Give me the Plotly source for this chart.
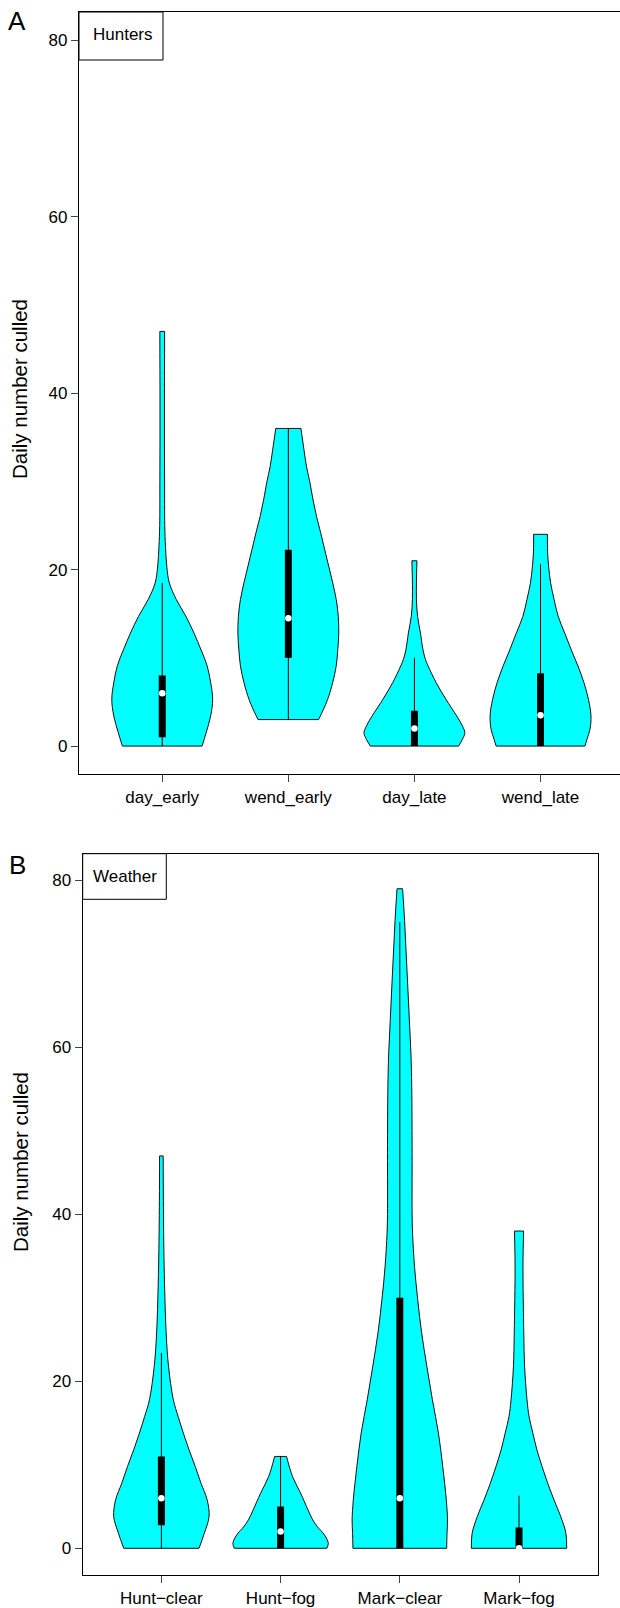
import plotly.graph_objects as go

W, H = 620, 1608

# ---------------- Panel A: Hunters ----------------
cats_a = ["day_early", "wend_early", "day_late", "wend_late"]

# density profiles (y level, relative half-width 0..1)
day_early_y = [0, 1.5, 3.4, 5.3, 7.2, 9.1, 10.9, 12.8, 14.7, 16.6, 18.5, 20.4, 22.6, 25, 30, 35, 40, 45, 47]
day_early_w = [0.79, 0.87, 0.96, 1.0, 0.96, 0.89, 0.77, 0.63, 0.47, 0.28, 0.14, 0.09, 0.065, 0.05, 0.047, 0.044, 0.044, 0.047, 0.047]

wend_early_y = [3, 4.2, 5.3, 7.2, 9.1, 10.9, 12.8, 14.7, 16.6, 18.5, 20.4, 22.3, 24.2, 26, 27.9, 29.8, 31.7, 33.6, 36]
wend_early_w = [0.6, 0.7, 0.78, 0.88, 0.95, 0.98, 1.0, 0.99, 0.95, 0.88, 0.8, 0.72, 0.64, 0.56, 0.49, 0.43, 0.36, 0.31, 0.25]

day_late_y = [0, 0.75, 1.5, 2.3, 3.4, 5.3, 7.2, 9.1, 9.8, 10.9, 12.8, 14.7, 16.6, 18.5, 21]
day_late_w = [0.875, 0.95, 1.0, 0.95, 0.84, 0.625, 0.43, 0.27, 0.22, 0.17, 0.12, 0.0625, 0.04, 0.04, 0.05]

wend_late_y = [0, 0.75, 1.9, 3.4, 5.3, 7.2, 9.1, 10.9, 12.8, 14.7, 16.6, 18.5, 20.4, 22, 24]
wend_late_w = [0.88, 0.92, 0.98, 1.0, 0.95, 0.86, 0.74, 0.61, 0.48, 0.35, 0.27, 0.2, 0.16, 0.14, 0.137]

# box stats: lower whisker, q1, median, q3, upper whisker
stats_a = [
    [0, 1, 6, 8, 18.5],
    [3, 10, 14.5, 22.25, 36],
    [0, 0, 2, 4, 10],
    [0, 0, 3.5, 8.25, 20.6],
]

# ---------------- Panel B: Weather ----------------
cats_b = ["Hunt\u2212clear", "Hunt\u2212fog", "Mark\u2212clear", "Mark\u2212fog"]

hunt_clear_y = [0, 1.8, 3.8, 5.8, 7.8, 9.8, 11.8, 13.8, 15.8, 17.8, 21.8, 25.8, 33.8, 41.7, 47]
hunt_clear_w = [0.79, 0.9, 1.0, 0.96, 0.83, 0.71, 0.58, 0.46, 0.35, 0.25, 0.15, 0.1, 0.058, 0.042, 0.0375]

hunt_fog_y = [0, 0.6, 1.6, 2.6, 3.4, 4.6, 6.6, 8.6, 11]
hunt_fog_w = [0.97, 1.0, 0.92, 0.77, 0.675, 0.575, 0.42, 0.25, 0.125]

mark_clear_y = [0, 1.8, 3.4, 5.8, 9.8, 13.8, 17.8, 21.8, 25.8, 29.8, 33.8, 37.8, 40, 47.4, 55.3, 59.3, 63.3, 67.3, 71.3, 75.2, 79]
mark_clear_w = [0.983, 0.99, 1.0, 0.975, 0.9, 0.81, 0.683, 0.567, 0.458, 0.375, 0.308, 0.267, 0.258, 0.258, 0.25, 0.233, 0.2, 0.167, 0.133, 0.1, 0.058]

mark_fog_y = [0, 1.8, 3.8, 5.8, 7.8, 9.8, 11.8, 13.8, 15.8, 17.8, 21.8, 25.8, 33.8, 38]
mark_fog_w = [1.0, 0.983, 0.875, 0.733, 0.6, 0.483, 0.375, 0.29, 0.21, 0.167, 0.117, 0.1, 0.083, 0.096]

stats_b = [
    [0, 2.75, 6, 11, 23.4],
    [0, 0, 2, 5, 11],
    [0, 0, 6, 30, 75],
    [0, 0, 0, 2.5, 6.3],
]

y_ticks = [0, 20, 40, 60, 80]

profiles_a = [(day_early_y, day_early_w), (wend_early_y, wend_early_w),
              (day_late_y, day_late_w), (wend_late_y, wend_late_w)]
profiles_b = [(hunt_clear_y, hunt_clear_w), (hunt_fog_y, hunt_fog_w),
              (mark_clear_y, mark_clear_w), (mark_fog_y, mark_fog_w)]

HALF = 0.4
FONT = "Liberation Sans, Arial, Helvetica, sans-serif"
OUTLINE = dict(color="#111111", width=1)

fig = go.Figure()


def add_panel(profiles, stats, xa, ya):
    common = dict(xaxis=xa, yaxis=ya, hoverinfo="skip", showlegend=False)
    for i, ((ys, ws), st) in enumerate(zip(profiles, stats)):
        c = i + 1
        left = [c - HALF * w for w in ws]
        right = [c + HALF * w for w in ws]
        # left boundary (smoothed)
        fig.add_trace(go.Scatter(x=left, y=ys, mode="lines",
                                 line=dict(shape="spline", smoothing=1, **OUTLINE), **common))
        # right boundary, filled toward the left one
        fig.add_trace(go.Scatter(x=right, y=ys, mode="lines", fill="tonextx",
                                 fillcolor="#00FFFF",
                                 line=dict(shape="spline", smoothing=1, **OUTLINE), **common))
        # flat bottom and top edges
        fig.add_trace(go.Scatter(x=[left[0], right[0], None, left[-1], right[-1]],
                                 y=[ys[0], ys[0], None, ys[-1], ys[-1]], mode="lines",
                                 line=OUTLINE, **common))
        # whisker
        fig.add_trace(go.Scatter(x=[c, c], y=[st[0], st[4]], mode="lines",
                                 line=dict(color="black", width=1), **common))
        # box
        fig.add_trace(go.Scatter(x=[c, c], y=[st[1], st[3]], mode="lines",
                                 line=dict(color="black", width=7), **common))
        # median
        fig.add_trace(go.Scatter(x=[c], y=[st[2]], mode="markers",
                                 marker=dict(color="white", size=6.5, line=dict(width=0)),
                                 **common))


add_panel(profiles_a, stats_a, "x", "y")
add_panel(profiles_b, stats_b, "x2", "y2")


def px_x(p):
    return p / W


def px_y(p):
    return 1 - p / H


axis_common = dict(showgrid=False, zeroline=False, showline=True, linecolor="black",
                   linewidth=1.3, ticks="outside", ticklen=7, tickcolor="#444",
                   tickwidth=1, tickfont=dict(family=FONT, size=17, color="black"))

fig.update_layout(
    width=W, height=H, margin=dict(l=0, r=0, t=0, b=0),
    paper_bgcolor="white", plot_bgcolor="white", showlegend=False,
    xaxis=dict(domain=[px_x(79), 1.0], range=[0.34, 0.34 + (620 - 79) / 126.1],
               tickvals=[1, 2, 3, 4], ticktext=cats_a, mirror=True, anchor="y",
               **axis_common),
    yaxis=dict(domain=[px_y(774.3), px_y(12)], range=[-3.2, 83.2],
               tickvals=y_ticks, mirror=False, anchor="x", **axis_common),
    xaxis2=dict(domain=[px_x(82.7), px_x(597.7)], range=[0.34, 4.66],
                tickvals=[1, 2, 3, 4], ticktext=cats_b, mirror=True, anchor="y2",
                **axis_common),
    yaxis2=dict(domain=[px_y(1575), px_y(853.7)], range=[-3.2, 83.2],
                tickvals=y_ticks, mirror=True, anchor="x2", **axis_common),
)

# legend-like boxes
for (x0, y0, x1, y1) in [(79, 12, 163, 60), (82.7, 853.7, 166.3, 899.3)]:
    fig.add_shape(type="rect", xref="paper", yref="paper",
                  x0=px_x(x0), x1=px_x(x1), y0=px_y(y1), y1=px_y(y0),
                  line=dict(color="black", width=1), fillcolor="white", layer="above")

annots = [
    dict(text="Hunters", x=px_x(122.7), y=px_y(34.7), size=17, angle=0),
    dict(text="Weather", x=px_x(125), y=px_y(876), size=17, angle=0),
    dict(text="A", x=px_x(17), y=px_y(20.5), size=26, angle=0),
    dict(text="B", x=px_x(17), y=px_y(865), size=26, angle=0),
    dict(text="Daily number culled", x=px_x(20), y=px_y(389), size=20.5, angle=-90),
    dict(text="Daily number culled", x=px_x(20), y=px_y(1162), size=20.5, angle=-90),
]
for a in annots:
    fig.add_annotation(text=a["text"], x=a["x"], y=a["y"], xref="paper", yref="paper",
                       xanchor="center", yanchor="middle", showarrow=False,
                       textangle=a["angle"], font=dict(family=FONT, size=a["size"], color="black"))

fig.write_html("out.html", config={"displayModeBar": False},
               post_script="document.body.style.margin='0px';document.body.style.padding='0px';")
